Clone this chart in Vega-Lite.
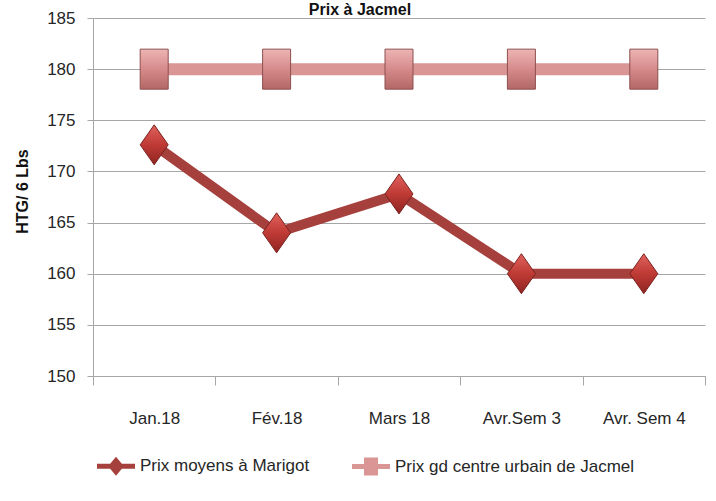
{
  "$schema": "https://vega.github.io/schema/vega-lite/v6.json",
  "width": 612,
  "height": 358,
  "autosize": "none",
  "padding": {"left": 93, "top": 18, "right": 11, "bottom": 125},
  "background": "white",
  "title": {
    "text": "Prix à Jacmel",
    "font": "Liberation Sans",
    "fontSize": 16,
    "fontWeight": "bold",
    "color": "#111111",
    "anchor": "middle",
    "frame": "group",
    "baseline": "alphabetic",
    "offset": -22,
    "dx": -39
  },
  "data": {
    "values": [
      {"mois": "Jan.18", "serie": "Prix moyens à Marigot", "prix": 172.6},
      {"mois": "Fév.18", "serie": "Prix moyens à Marigot", "prix": 164.0},
      {"mois": "Mars 18", "serie": "Prix moyens à Marigot", "prix": 167.8},
      {"mois": "Avr.Sem 3", "serie": "Prix moyens à Marigot", "prix": 160.0},
      {"mois": "Avr. Sem 4", "serie": "Prix moyens à Marigot", "prix": 160.0},
      {"mois": "Jan.18", "serie": "Prix gd centre urbain de Jacmel", "prix": 180},
      {"mois": "Fév.18", "serie": "Prix gd centre urbain de Jacmel", "prix": 180},
      {"mois": "Mars 18", "serie": "Prix gd centre urbain de Jacmel", "prix": 180},
      {"mois": "Avr.Sem 3", "serie": "Prix gd centre urbain de Jacmel", "prix": 180},
      {"mois": "Avr. Sem 4", "serie": "Prix gd centre urbain de Jacmel", "prix": 180}
    ]
  },
  "encoding": {
    "x": {
      "field": "mois",
      "type": "nominal",
      "bandPosition": 0.5,
      "sort": ["Jan.18", "Fév.18", "Mars 18", "Avr.Sem 3", "Avr. Sem 4"],
      "scale": {"type": "band", "paddingInner": 0, "paddingOuter": 0},
      "axis": {
        "title": null,
        "labelAngle": 0,
        "labelFontSize": 17,
        "labelColor": "#262626",
        "domainColor": "#A6A6A6",
        "tickColor": "#A6A6A6",
        "tickSize": 9,
        "tickBand": "extent",
        "labelPadding": 25,
        "grid": false
      }
    },
    "y": {
      "field": "prix",
      "type": "quantitative",
      "scale": {"domain": [150, 185], "nice": false, "zero": false},
      "axis": {
        "title": "HTG/ 6 Lbs",
        "titleFont": "Liberation Sans",
        "titleFontSize": 16,
        "titleFontWeight": "bold",
        "titleColor": "#111111",
        "titleAngle": -90,
        "titleX": -71,
        "titleY": 173,
        "titleAlign": "center",
        "titleBaseline": "middle",
        "values": [150, 155, 160, 165, 170, 175, 180, 185],
        "labelFontSize": 17,
        "labelColor": "#262626",
        "labelPadding": 12,
        "tickSize": 6,
        "tickColor": "#A6A6A6",
        "domainColor": "#A6A6A6",
        "grid": true,
        "gridColor": "#A6A6A6"
      }
    },
    "color": {
      "field": "serie",
      "type": "nominal",
      "scale": {
        "domain": ["Prix moyens à Marigot", "Prix gd centre urbain de Jacmel"],
        "range": ["#A5403D", "#D99694"]
      },
      "legend": {
        "title": null,
        "orient": "none",
        "direction": "horizontal",
        "legendX": 14,
        "legendY": 439,
        "padding": 0,
        "columnPadding": 42,
        "labelFontSize": 17,
        "labelLimit": 400,
        "labelColor": "#262626",
        "labelOffset": 15,
        "symbolSize": 324,
        "encode": {
          "symbols": {
            "update": {
              "shape": {"signal": "datum.index === 0 ? 'M-2.11,-0.28H-0.65L0,-1.06L0.65,-0.28H2.11V0.28H0.65L0,1.06L-0.65,0.28H-2.11Z' : 'M-2.11,-0.28H-0.78V-1H0.78V-0.28H2.11V0.28H0.78V1H-0.78V0.28H-2.11Z'"},
              "fill": {"scale": "color", "field": "value"},
              "strokeWidth": {"value": 0},
              "opacity": {"value": 1},
              "size": {"value": 324}
            }
          }
        }
      }
    }
  },
  "layer": [
    {
      "transform": [{"filter": "datum.serie === 'Prix gd centre urbain de Jacmel'"}],
      "mark": {"type": "line", "strokeWidth": 12}
    },
    {
      "transform": [{"filter": "datum.serie === 'Prix moyens à Marigot'"}],
      "mark": {"type": "line", "strokeWidth": 10, "strokeJoin": "miter"}
    },
    {
      "transform": [{"filter": "datum.serie === 'Prix gd centre urbain de Jacmel'"}],
      "mark": {
        "type": "point",
        "shape": "M-0.7,-1H0.7V1H-0.7Z",
        "size": 1600,
        "filled": true,
        "opacity": 1,
        "fill": {"gradient": "linear", "x1": 0, "y1": 0, "x2": 0, "y2": 1, "stops": [{"offset": 0, "color": "#EDB5B5"}, {"offset": 0.5, "color": "#D68A8A"}, {"offset": 1, "color": "#B36868"}]},
        "stroke": "#8E4F4F",
        "strokeWidth": 1
      },
      "encoding": {"color": {"value": null}}
    },
    {
      "transform": [{"filter": "datum.serie === 'Prix moyens à Marigot'"}],
      "mark": {
        "type": "point",
        "shape": "M0,-1L0.7,0L0,1L-0.7,0Z",
        "size": 1600,
        "filled": true,
        "opacity": 1,
        "fill": {"gradient": "linear", "x1": 0, "y1": 0, "x2": 0, "y2": 1, "stops": [{"offset": 0, "color": "#E0625D"}, {"offset": 0.5, "color": "#BF3A35"}, {"offset": 1, "color": "#8E2522"}]},
        "stroke": "#7A2320",
        "strokeWidth": 1
      },
      "encoding": {"color": {"value": null}}
    }
  ],
  "config": {
    "view": {"stroke": null},
    "font": "Liberation Sans"
  }
}
